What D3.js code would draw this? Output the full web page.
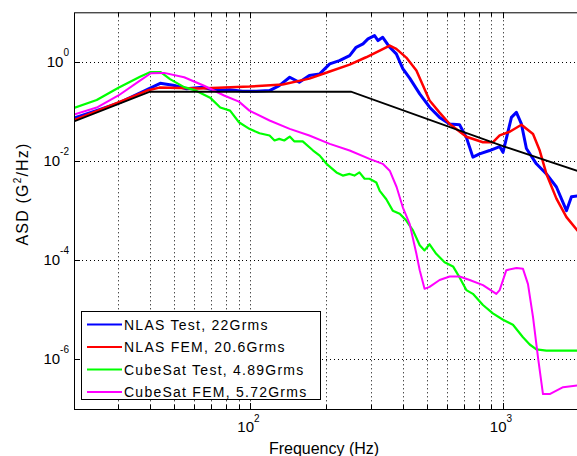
<!DOCTYPE html>
<html>
<head>
<meta charset="utf-8">
<script src="https://cdn.jsdelivr.net/npm/d3@7"></script>
<style>
  body { margin: 0; background: #fff; }
  svg { display: block; font-family: "Liberation Sans", Arial, Helvetica, sans-serif; }
</style>
</head>
<body>
<svg id="chart" width="577" height="456"></svg>
<script>
// ------------------------------------------------ data -------------------------------------------------
// each series: [frequency (Hz), ASD (G^2/Hz)]
var nlasTest = [
    [20, 0.074], [25.2, 0.109], [30.3, 0.151], [38.2, 0.264], [43.9, 0.37], [50, 0.333], [55.8, 0.286],
    [64.5, 0.308], [73.1, 0.264], [82.6, 0.273], [93, 0.255], [105.6, 0.255], [119, 0.264], [130, 0.333],
    [143, 0.49], [156, 0.388], [171, 0.53], [188, 0.573], [206, 0.91], [225, 1.06], [247, 1.34], [262, 1.97],
    [279, 2.31], [292, 2.91], [310, 3.39], [320, 2.69], [334, 3.13], [356, 1.97], [378, 1.45], [401, 0.73],
    [427, 0.47], [468, 0.226], [512, 0.122], [561, 0.076], [615, 0.056], [673, 0.054], [716, 0.03],
    [760, 0.012], [808, 0.014], [885, 0.0163], [970, 0.0196], [1000, 0.015], [1080, 0.076], [1130, 0.096],
    [1183, 0.056], [1238, 0.0179], [1356, 0.0088], [1486, 0.0055], [1628, 0.003], [1784, 0.001],
    [1867, 0.0019], [2000, 0.002]
];
var nlasFem = [
    [20, 0.067], [27.4, 0.126], [39, 0.264], [43.6, 0.303], [62.8, 0.29], [99, 0.318], [134, 0.35],
    [171, 0.46], [206, 0.64], [247, 0.88], [287, 1.24], [325, 1.69], [356, 2.13], [378, 1.83], [414, 1.22],
    [454, 0.669], [512, 0.166], [561, 0.095], [615, 0.056], [716, 0.031], [833, 0.024], [913, 0.024],
    [970, 0.033], [1063, 0.039], [1183, 0.054], [1315, 0.035], [1398, 0.0163], [1486, 0.0055],
    [1628, 0.00175], [1784, 0.00074], [1971, 0.0004], [2000, 0.00036]
];
var cubesatTest = [
    [20, 0.118], [24.6, 0.17], [30, 0.3], [36.5, 0.5], [40, 0.62], [44.1, 0.62], [48, 0.45], [54.6, 0.31],
    [60, 0.27], [69.2, 0.19], [75.9, 0.12], [83, 0.104], [90, 0.0606], [99, 0.0446], [108.6, 0.0363],
    [119, 0.0327], [124.5, 0.026], [130, 0.028], [136, 0.026], [143, 0.0312], [149, 0.025], [161, 0.025],
    [177, 0.0163], [188, 0.0129], [200, 0.0088], [219, 0.0059], [232, 0.0051], [247, 0.0055], [258, 0.0051],
    [270, 0.0059], [283, 0.0044], [296, 0.0044], [315, 0.0037], [325, 0.0025], [345, 0.0017], [366, 0.001],
    [390, 0.00087], [414, 0.00063], [440, 0.0004], [468, 0.0002], [489, 0.000158], [512, 0.00021],
    [544, 0.000135], [587, 9.1e-5], [634, 7.5e-5], [673, 4.5e-5], [716, 2.5e-5],
    [760, 2.1e-5], [833, 1.25e-5], [912, 8.5e-6], [1000, 6.3e-6], [1095, 5e-6], [1200, 2.8e-6],
    [1276, 2e-6], [1356, 1.6e-6], [1486, 1.5e-6], [1730, 1.5e-6], [2000, 1.5e-6]
];
var cubesatFem = [
    [20, 0.087], [24.6, 0.12], [30, 0.21], [36.5, 0.42], [40.3, 0.59], [45.5, 0.6], [54.6, 0.49],
    [65.5, 0.33], [78.6, 0.21], [90, 0.158], [99, 0.104], [119, 0.0657], [143, 0.0446], [171, 0.0327],
    [206, 0.0222], [247, 0.0163], [296, 0.0111], [334, 0.0088], [356, 0.0064], [379, 0.003], [401, 0.00117],
    [427, 0.00054], [454, 0.000135], [468, 6.3e-5], [489, 2.65e-5], [512, 2.9e-5], [561, 4e-5],
    [615, 4.7e-5], [673, 4.7e-5], [738, 4e-5], [833, 3.15e-5], [941, 2.1e-5], [970, 2.5e-5],
    [1031, 6.3e-5], [1130, 7e-5], [1200, 6.7e-5], [1256, 3.3e-5], [1315, 7.1e-6], [1376, 1.1e-6],
    [1440, 2e-7], [1531, 2e-7], [1730, 2.75e-7], [2000, 3e-7]
];
// test specification (black)
var specLine = [[20, 0.063], [40, 0.25], [250, 0.25], [1000, 0.02], [2000, 0.0062]];

var seriesNames = ["NLAS Test, 22Grms", "NLAS FEM, 20.6Grms", "CubeSat Test, 4.89Grms", "CubeSat FEM, 5.72Grms"];
var seriesColors = ["#0000ff", "#ff0000", "#00ff00", "#ff00ff"];
var seriesWidths = [3, 2.5, 2.2, 2];

var xLimits = [20, 2000];
var yLimits = [1e-7, 10];
var xMajor = [100, 1000];
var xMinor = [30, 40, 50, 60, 70, 80, 90, 200, 300, 400, 500, 600, 700, 800, 900];
var yMajor = [1e0, 1e-2, 1e-4, 1e-6];
var yExponents = ["0", "-2", "-4", "-6"];
var xExponents = ["2", "3"];

// ------------------------------------------------ chart -------------------------------------------------
var svg = d3.select("#chart");
var plotLeft = 74, plotRight = 579, plotTop = 12.3, plotBottom = 409;

var x = d3.scaleLog().domain(xLimits).range([plotLeft, plotRight]);
var y = d3.scaleLog().domain(yLimits).range([plotBottom, plotTop]);

svg.append("defs").append("clipPath").attr("id", "plotclip")
    .append("rect")
    .attr("x", plotLeft).attr("y", plotTop)
    .attr("width", plotRight - plotLeft).attr("height", plotBottom - plotTop);

// grid (dotted)
var grid = svg.append("g").attr("stroke", "#000").attr("stroke-width", 1).attr("stroke-dasharray", "1,3");
grid.selectAll(".vgrid")
    .data(xMajor.concat(xMinor))
    .enter().append("line")
    .attr("x1", function (d) { return Math.round(x(d)) + 0.5; })
    .attr("x2", function (d) { return Math.round(x(d)) + 0.5; })
    .attr("y1", plotTop).attr("y2", plotBottom);
grid.selectAll(".hgrid")
    .data(yMajor)
    .enter().append("line")
    .attr("x1", plotLeft).attr("x2", plotRight)
    .attr("y1", function (d) { return Math.round(y(d)) + 0.5; })
    .attr("y2", function (d) { return Math.round(y(d)) + 0.5; });

// lines
var line = d3.line()
    .x(function (d) { return x(d[0]); })
    .y(function (d) { return y(d[1]); });

var plot = svg.append("g").attr("clip-path", "url(#plotclip)");
[nlasTest, nlasFem, cubesatTest, cubesatFem].forEach(function (s, i) {
    plot.append("path")
        .attr("d", line(s))
        .attr("fill", "none")
        .attr("stroke", seriesColors[i])
        .attr("stroke-width", seriesWidths[i])
        .attr("stroke-linejoin", "round");
});
plot.append("path")
    .attr("d", line(specLine))
    .attr("fill", "none")
    .attr("stroke", "#000")
    .attr("stroke-width", 1.8);

// axes frame
svg.append("rect")
    .attr("x", plotLeft + 0.5).attr("y", plotTop + 0.5)
    .attr("width", plotRight - plotLeft).attr("height", plotBottom - plotTop)
    .attr("fill", "none").attr("stroke", "#000").attr("stroke-width", 1);

// ticks, inward
var ticks = svg.append("g").attr("stroke", "#000").attr("stroke-width", 1);
xMajor.concat(xMinor).forEach(function (t) {
    var len = xMajor.indexOf(t) >= 0 ? 6 : 4;
    var px = Math.round(x(t)) + 0.5;
    ticks.append("line").attr("x1", px).attr("x2", px).attr("y1", plotBottom).attr("y2", plotBottom - len);
    ticks.append("line").attr("x1", px).attr("x2", px).attr("y1", plotTop).attr("y2", plotTop + len);
});
yMajor.forEach(function (t) {
    var py = Math.round(y(t)) + 0.5;
    ticks.append("line").attr("x1", plotLeft).attr("x2", plotLeft + 6).attr("y1", py).attr("y2", py);
});

// tick labels
var labels = svg.append("g").attr("font-size", 15).attr("fill", "#000");
xMajor.forEach(function (t, i) {
    var tx = labels.append("text")
        .attr("x", x(t) - 2).attr("y", 431.5)
        .attr("text-anchor", "middle");
    tx.append("tspan").text("10");
    tx.append("tspan").attr("font-size", 10).attr("dy", -10).text(xExponents[i]);
});
yMajor.forEach(function (t, i) {
    var ty = labels.append("text")
        .attr("x", 69).attr("y", y(t) + 5)
        .attr("text-anchor", "end");
    ty.append("tspan").text("10");
    ty.append("tspan").attr("font-size", 10).attr("dy", -11).text(yExponents[i]);
});

// axis titles
svg.append("text")
    .attr("x", 324).attr("y", 454)
    .attr("text-anchor", "middle")
    .attr("font-size", 16)
    .text("Frequency (Hz)");

var yt = svg.append("text")
    .attr("transform", "translate(28,194) rotate(-90)")
    .attr("text-anchor", "middle")
    .attr("font-size", 16)
    .attr("letter-spacing", 1.2);
yt.append("tspan").text("ASD (G");
yt.append("tspan").attr("font-size", 10).attr("dy", -7).text("2");
yt.append("tspan").attr("dy", 7).text("/Hz)");

// legend
var legend = svg.append("g");
legend.append("rect")
    .attr("x", 81.5).attr("y", 311.5)
    .attr("width", 239).attr("height", 88)
    .attr("fill", "#fff").attr("stroke", "#000").attr("stroke-width", 1);
seriesNames.forEach(function (name, i) {
    var ly = 324.5 + i * 22.5;
    legend.append("line")
        .attr("x1", 87).attr("x2", 122)
        .attr("y1", ly).attr("y2", ly)
        .attr("stroke", seriesColors[i]).attr("stroke-width", 2);
    legend.append("text")
        .attr("x", 124).attr("y", ly + 5)
        .attr("font-size", 14)
        .attr("letter-spacing", 1.25)
        .text(name);
});
</script>
</body>
</html>
